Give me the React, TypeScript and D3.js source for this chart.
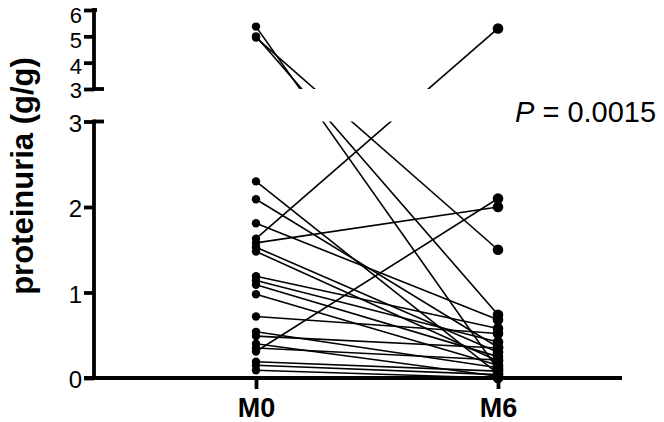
import { useRef, useEffect } from "react";
import * as d3 from "d3";

// paired proteinuria values (g/g), baseline M0 and month 6 M6
const timepoints = ["M0", "M6"];
const m0Values = [5.37, 5.0, 4.95, 2.3, 2.09, 1.81, 1.63, 1.58, 1.53, 1.48, 1.19, 1.14, 1.09, 0.98, 0.72, 0.54, 0.49, 0.4, 0.35, 0.31, 0.19, 0.15, 0.09];
const m6Values = [0.1, 0.74, 1.5, 0.05, 0.36, 0.68, 5.3, 2.0, 0.3, 0.2, 0.58, 0.42, 0.25, 0.15, 0.52, 0.12, 0.35, 0.02, 0.21, 2.1, 0.08, 0.04, 0.0];
const lowerTicks = [0, 1, 2, 3];
const upperTicks = [3, 4, 5, 6];
const yTitle = "proteinuria (g/g)";
const pValue = "0.0015";

const W = 664;
const H = 422;

export default function App() {
  const ref = useRef<SVGSVGElement>(null);

  useEffect(() => {
    const svg = d3.select(ref.current);
    svg.selectAll("*").remove();

    const axisX = 94;
    const sw = 3.8;
    const x = d3.scalePoint().domain(timepoints).range([256, 498]);
    const yLow = d3.scaleLinear().domain([0, 3]).range([378, 121.5]);
    const yHigh = d3.scaleLinear().domain([3, 6]).range([89, 10]);
    const y = (v: number) => (v > 3 ? yHigh(v) : yLow(v));

    const font = "'Liberation Sans', Arial, Helvetica, sans-serif";

    // clip lines so the axis break stays empty
    const defs = svg.append("defs");
    const clip = defs.append("clipPath").attr("id", "brk");
    clip.append("rect").attr("x", 0).attr("y", 0).attr("width", W).attr("height", yHigh(3));
    clip.append("rect").attr("x", 0).attr("y", yLow(3)).attr("width", W).attr("height", H - yLow(3));

    const pairs = m0Values.map((v, i) => [v, m6Values[i]]);

    svg
      .append("g")
      .attr("clip-path", "url(#brk)")
      .selectAll("line")
      .data(pairs)
      .join("line")
      .attr("x1", x("M0")!)
      .attr("x2", x("M6")!)
      .attr("y1", (d) => y(d[0]))
      .attr("y2", (d) => y(d[1]))
      .attr("stroke", "#000")
      .attr("stroke-width", 1.6);

    // x axis
    const xAxisG = svg
      .append("g")
      .attr("transform", `translate(0,${yLow(0)})`)
      .call(d3.axisBottom(x).tickSize(11).tickPadding(9));
    xAxisG.select(".domain").remove();
    xAxisG.selectAll(".tick line").attr("stroke", "#000").attr("stroke-width", sw);
    xAxisG
      .selectAll(".tick text")
      .attr("fill", "#000")
      .style("font-family", font)
      .style("font-weight", "bold")
      .style("font-size", "27px")
      .attr("dy", "0.71em");
    svg
      .append("line")
      .attr("x1", 84)
      .attr("x2", 622)
      .attr("y1", yLow(0))
      .attr("y2", yLow(0))
      .attr("stroke", "#000")
      .attr("stroke-width", sw);

    // y axes (broken)
    const upperDy: Record<number, string> = { 3: "0.4em", 4: "0.47em", 5: "0.52em", 6: "0.56em" };
    const styleY = (g: any, size: number, upper: boolean) => {
      g.select(".domain").remove();
      g.selectAll(".tick line").attr("stroke", "#000").attr("stroke-width", sw);
      g.selectAll(".tick text")
        .attr("fill", "#000")
        .style("font-family", font)
        .style("font-size", `${size}px`)
        .attr("dy", (d: number) => (upper ? upperDy[d] : "0.4em"));
    };
    const lowG = svg
      .append("g")
      .attr("transform", `translate(${axisX},0)`)
      .call(d3.axisLeft(yLow).tickValues(lowerTicks).tickFormat(d3.format("d")).tickSize(10).tickPadding(2));
    styleY(lowG, 24, false);
    const highG = svg
      .append("g")
      .attr("transform", `translate(${axisX},0)`)
      .call(d3.axisLeft(yHigh).tickValues(upperTicks).tickFormat(d3.format("d")).tickSize(10).tickPadding(2));
    styleY(highG, 22, true);

    const segs = [
      [yLow(0), yLow(3)],
      [yHigh(3), yHigh(6)],
    ];
    svg
      .append("g")
      .selectAll("line")
      .data(segs)
      .join("line")
      .attr("x1", axisX)
      .attr("x2", axisX)
      .attr("y1", (d) => d[0] + sw / 2)
      .attr("y2", (d) => d[1] - sw / 2)
      .attr("stroke", "#000")
      .attr("stroke-width", sw);
    // end caps on the break
    const caps = [
      [yLow(3), 104],
      [yHigh(3), 104],
      [yHigh(6), 97],
    ];
    svg
      .append("g")
      .selectAll("line")
      .data(caps)
      .join("line")
      .attr("x1", axisX)
      .attr("x2", (d) => d[1])
      .attr("y1", (d) => d[0])
      .attr("y2", (d) => d[0])
      .attr("stroke", "#000")
      .attr("stroke-width", sw);

    // dots
    svg
      .append("g")
      .selectAll("circle.m0")
      .data(m0Values)
      .join("circle")
      .attr("cx", x("M0")!)
      .attr("cy", (d) => y(d))
      .attr("r", 4.2)
      .attr("fill", "#000");
    svg
      .append("g")
      .selectAll("circle.m6")
      .data(m6Values)
      .join("circle")
      .attr("cx", x("M6")!)
      .attr("cy", (d) => y(d))
      .attr("r", 5.3)
      .attr("fill", "#000");

    // y title
    svg
      .append("text")
      .attr("transform", `translate(33,176) rotate(-90)`)
      .attr("text-anchor", "middle")
      .style("font-family", font)
      .style("font-weight", "bold")
      .style("font-size", "31px")
      .text(yTitle);

    // P value
    const pt = svg
      .append("text")
      .attr("x", 515)
      .attr("y", 122)
      .style("font-family", font)
      .style("font-size", "29px");
    pt.append("tspan").style("font-style", "italic").text("P");
    pt.append("tspan").text(` = ${pValue}`);
  }, []);

  return (
    <svg
      ref={ref}
      width={W}
      height={H}
      style={{ position: "absolute", left: 0, top: 0, background: "#fff" }}
    />
  );
}
